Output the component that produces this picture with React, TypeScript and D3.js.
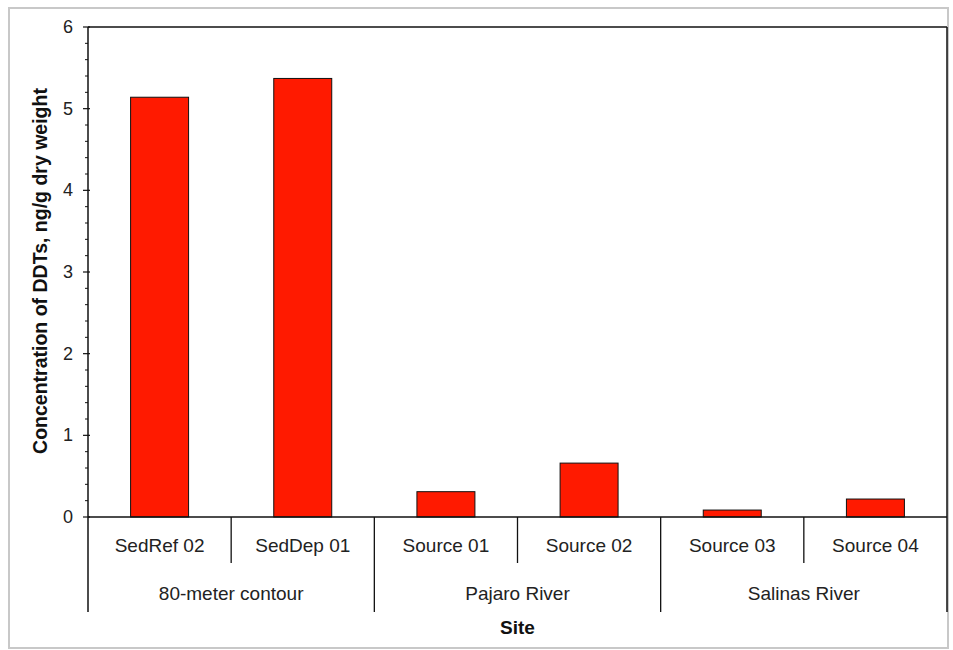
import React from "react";
import * as d3 from "d3";

// Sites, their grouping and DDT concentrations (ng/g dry weight)
const sites = ["SedRef 02", "SedDep 01", "Source 01", "Source 02", "Source 03", "Source 04"];
const groups = ["80-meter contour", "80-meter contour", "Pajaro River", "Pajaro River", "Salinas River", "Salinas River"];
const ddtValues = [5.14, 5.37, 0.31, 0.66, 0.085, 0.22];
const yTicks = [0, 1, 2, 3, 4, 5, 6];

const W = 953;
const H = 650;
const FONT = "'Liberation Sans', Arial, Helvetica, sans-serif";

export default function App() {
  const left = 88;
  const right = 947;
  const top = 27;
  const bottom = 517;

  const x = d3.scaleBand<string>().domain(sites).range([left, right]).paddingInner(0).paddingOuter(0);
  const y = d3.scaleLinear().domain([0, 6]).range([bottom, top]);
  const bw = x.bandwidth();
  const barW = bw * 0.405;

  const minorTicks = d3.range(0, 6.0001, 0.2).filter((v) => Math.abs(v - Math.round(v)) > 1e-6);

  // group spans: consecutive sites sharing a group name
  const groupSpans: { name: string; start: number; end: number }[] = [];
  sites.forEach((s, i) => {
    const g = groups[i];
    const last = groupSpans[groupSpans.length - 1];
    if (last && last.name === g) last.end = i;
    else groupSpans.push({ name: g, start: i, end: i });
  });

  const catY = 545;
  const groupY = 593;
  const innerDivEnd = 563;
  const outerDivEnd = 612;

  return (
    <svg width={W} height={H} style={{ position: "absolute", left: 0, top: 0, background: "#fff" }}>
      <rect x={0} y={0} width={W} height={H} fill="#fff" />
      {/* outer frame */}
      <rect x={9} y={8} width={W - 14} height={H - 10} fill="none" stroke="#c8c8c8" strokeWidth={2} />

      {/* bars */}
      {sites.map((s, i) => {
        const cx = (x(s) as number) + bw / 2;
        return (
          <rect
            key={s}
            x={cx - barW / 2}
            y={y(ddtValues[i])}
            width={barW}
            height={y(0) - y(ddtValues[i])}
            fill="#ff1a00"
            stroke="#111"
            strokeWidth={1}
          />
        );
      })}

      {/* plot frame */}
      <line x1={left} x2={right} y1={top} y2={top} stroke="#111" strokeWidth={1.5} />
      <line x1={right} x2={right} y1={top} y2={outerDivEnd} stroke="#111" strokeWidth={1.5} />
      <line x1={left} x2={left} y1={top} y2={outerDivEnd} stroke="#111" strokeWidth={1.5} />
      <line x1={left} x2={right} y1={bottom} y2={bottom} stroke="#111" strokeWidth={1.5} />

      {/* y ticks */}
      {minorTicks.map((v) => (
        <line key={"m" + v} x1={left - 3} x2={left} y1={y(v)} y2={y(v)} stroke="#111" strokeWidth={1} />
      ))}
      {yTicks.map((v) => (
        <g key={"t" + v}>
          <line x1={left - 5} x2={left + 2} y1={y(v)} y2={y(v)} stroke="#111" strokeWidth={1.2} />
          <text
            x={73}
            y={y(v)}
            textAnchor="end"
            dominantBaseline="central"
            fontFamily={FONT}
            fontSize={18}
            fill="#222"
          >
            {v}
          </text>
        </g>
      ))}

      {/* category dividers */}
      {d3.range(1, sites.length).map((i) => {
        const xx = x(sites[i]) as number;
        const isGroupEdge = groups[i] !== groups[i - 1];
        return (
          <line
            key={"d" + i}
            x1={xx}
            x2={xx}
            y1={bottom}
            y2={isGroupEdge ? outerDivEnd : innerDivEnd}
            stroke="#111"
            strokeWidth={1.3}
          />
        );
      })}

      {/* category labels */}
      {sites.map((s) => (
        <text
          key={"c" + s}
          x={(x(s) as number) + bw / 2}
          y={catY}
          textAnchor="middle"
          dominantBaseline="central"
          fontFamily={FONT}
          fontSize={19}
          fill="#222"
        >
          {s}
        </text>
      ))}

      {/* group labels */}
      {groupSpans.map((g) => {
        const x0 = x(sites[g.start]) as number;
        const x1 = (x(sites[g.end]) as number) + bw;
        return (
          <text
            key={"g" + g.name}
            x={(x0 + x1) / 2}
            y={groupY}
            textAnchor="middle"
            dominantBaseline="central"
            fontFamily={FONT}
            fontSize={19}
            fill="#222"
          >
            {g.name}
          </text>
        );
      })}

      {/* axis titles */}
      <text
        x={(left + right) / 2}
        y={627}
        textAnchor="middle"
        dominantBaseline="central"
        fontFamily={FONT}
        fontSize={19}
        fontWeight="bold"
        fill="#111"
      >
        Site
      </text>
      <text
        transform={`translate(40, ${(455 + 87) / 2}) rotate(-90)`}
        textAnchor="middle"
        dominantBaseline="central"
        fontFamily={FONT}
        fontSize={19.5}
        fontWeight="bold"
        fill="#111"
      >
        Concentration of DDTs, ng/g dry weight
      </text>
    </svg>
  );
}
